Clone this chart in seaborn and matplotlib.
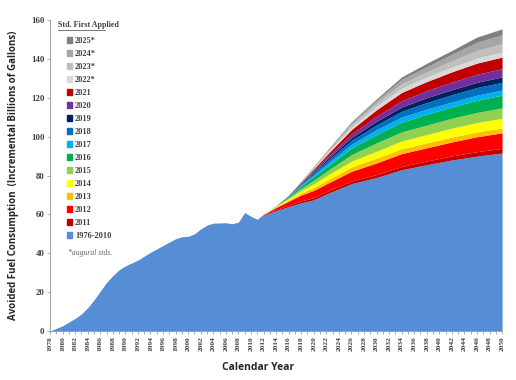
import numpy as np
import matplotlib
matplotlib.use("Agg")
import matplotlib.pyplot as plt
from matplotlib.patches import Patch
import seaborn as sns

sns.set_style("white")

# base fleet (1976-2010 standards)
base_years = [1978, 1980, 1982, 1983, 1984, 1985, 1986, 1987, 1988, 1989, 1990, 1992, 1994, 1996,
              1998, 1999, 2000, 2001, 2002, 2003, 2004, 2006, 2007, 2008, 2009, 2010,
              2011, 2012, 2014, 2016, 2018, 2020, 2022, 2026, 2030, 2034, 2038, 2042, 2046, 2050]
base_vals = [0, 2.7, 6.5, 8.8, 12, 16, 20.5, 25, 28.5, 31.5, 33.5, 36.5, 40.5, 44,
             47.5, 48.5, 48.7, 50, 52.5, 54.5, 55.5, 55.7, 55.2, 56, 61, 59,
             57.5, 59.5, 62, 64, 66, 67.5, 70.5, 75.8, 79, 83, 85.6, 88, 90, 91.6]

# later standards, thickness of each band
layer_years = [2011, 2012, 2014, 2016, 2018, 2020, 2022, 2026, 2030, 2034, 2038, 2042, 2046, 2050]
std_2011 = [0, 0.3, 0.6, 0.8, 1.0, 1.1, 1.2, 1.4, 1.5, 1.7, 1.9, 2.1, 2.3, 2.4]
std_2012 = [0, 0.2, 1.0, 2.0, 3.0, 3.8, 4.0, 5.0, 6.0, 6.6, 6.8, 7.2, 7.7, 8.0]
std_2013 = [0, 0, 0.3, 0.6, 1.0, 1.4, 1.7, 2.2, 2.5, 2.5, 2.5, 2.5, 2.5, 2.5]
std_2014 = [0, 0, 0.3, 0.7, 1.3, 1.9, 2.4, 3.0, 3.5, 4.0, 4.3, 4.6, 4.8, 5.0]
std_2015 = [0, 0, 0.2, 0.6, 1.2, 1.9, 2.3, 3.4, 4.3, 4.7, 4.9, 5.1, 5.2, 5.3]
std_2016 = [0, 0, 0.1, 0.5, 1.1, 1.8, 2.2, 3.3, 4.3, 5.0, 5.6, 5.8, 6.3, 6.6]
std_2017 = [0, 0, 0, 0.2, 0.6, 1.0, 1.4, 2.0, 2.5, 2.6, 2.6, 2.6, 2.6, 2.6]
std_2018 = [0, 0, 0, 0.2, 0.6, 1.0, 1.4, 2.0, 2.5, 3.0, 3.4, 3.7, 3.9, 4.0]
std_2019 = [0, 0, 0, 0.1, 0.3, 0.6, 0.9, 1.4, 1.8, 2.2, 2.5, 2.6, 2.7, 2.8]
std_2020 = [0, 0, 0, 0.1, 0.3, 0.7, 1.1, 1.9, 2.6, 3.2, 3.6, 3.9, 4.1, 4.2]
std_2021 = [0, 0, 0, 0.1, 0.4, 0.8, 1.3, 2.3, 3.4, 4.3, 4.7, 5.3, 5.8, 6.0]
std_2022 = [0, 0, 0, 0, 0.2, 0.4, 0.7, 1.3, 1.8, 2.1, 2.3, 2.4, 2.5, 2.6]
std_2023 = [0, 0, 0, 0, 0.2, 0.4, 0.6, 1.2, 1.7, 2.4, 2.7, 3.3, 4.0, 4.3]
std_2024 = [0, 0, 0, 0, 0.1, 0.3, 0.5, 1.0, 1.3, 2.2, 2.6, 3.3, 4.2, 4.6]
std_2025 = [0, 0, 0, 0, 0.1, 0.2, 0.3, 0.5, 0.8, 1.3, 1.8, 2.0, 2.7, 3.0]

layers = [std_2011, std_2012, std_2013, std_2014, std_2015, std_2016, std_2017, std_2018,
          std_2019, std_2020, std_2021, std_2022, std_2023, std_2024, std_2025]
layer_names = ["2011", "2012", "2013", "2014", "2015", "2016", "2017", "2018",
               "2019", "2020", "2021", "2022*", "2023*", "2024*", "2025*"]
layer_colors = ["#C00000", "#FF0000", "#FFC000", "#FFFF00", "#92D050", "#00B050", "#00B0F0",
                "#0070C0", "#002060", "#7030A0", "#C00000", "#D9D9D9", "#BFBFBF", "#A6A6A6", "#808080"]
base_color = "#558ED5"

fig = plt.figure(figsize=(5.16, 3.8), dpi=100)
ax = fig.add_axes([0.097, 0.129, 0.876, 0.818])

ax.fill_between(base_years, 0, base_vals, color=base_color, linewidth=0)

# stack the later standards on top of the base
base_lookup = dict(zip(base_years, base_vals))
bottom = np.array([base_lookup[y] for y in layer_years], dtype=float)
for vals, col in zip(layers, layer_colors):
    top = bottom + np.array(vals)
    ax.fill_between(layer_years, bottom, top, color=col, linewidth=0)
    bottom = top

ax.set_xlim(1978, 2050)
ax.set_ylim(0, 160)
ax.set_xticks(range(1978, 2051, 2))
ax.set_xticks(range(1978, 2051), minor=True)
ax.set_yticks(range(0, 161, 20))

tick_font = dict(family="Liberation Serif", weight="bold", color="#404040")
ax.set_xticklabels([str(y) for y in range(1978, 2051, 2)], rotation=90, fontsize=5.3, **tick_font)
ax.set_yticklabels([str(v) for v in range(0, 161, 20)], fontsize=6.3, **tick_font)
ax.tick_params(axis="both", which="both", direction="out", length=2.5, width=0.6, color="#A0A0A0",
               bottom=True, left=True, pad=1.5)
ax.tick_params(axis="x", which="minor", length=2)

for side in ["top", "right"]:
    ax.spines[side].set_visible(False)
for side in ["left", "bottom"]:
    ax.spines[side].set_color("#A0A0A0")
    ax.spines[side].set_linewidth(0.7)

ax.set_xlabel("Calendar Year", fontsize=7.5, fontweight="bold", family="Open Sans", color="#262626")
ax.xaxis.set_label_coords(0.46, -0.1)
ax.set_ylabel("Avoided Fuel Consumption  (Incremental Billions of Gallons)", fontsize=7,
              fontweight="bold", family="Open Sans", color="#262626")
ax.yaxis.set_label_coords(-0.068, 0.5)

# legend, newest standard on top
handles = [Patch(color=c) for c in layer_colors[::-1]] + [Patch(color=base_color)]
labels = layer_names[::-1] + ["1976-2010"]
leg = ax.legend(handles, labels, loc="upper left", bbox_to_anchor=(0.02, 0.97), frameon=False,
                prop=dict(family="Liberation Serif", weight="bold", size=6),
                handlelength=0.7, handleheight=0.7, handletextpad=0.3, labelspacing=0.6)
for t in leg.get_texts():
    t.set_color("#404040")

ax.text(0.018, 0.972, "Std. First Applied", transform=ax.transAxes, fontsize=5.8,
        family="Liberation Serif", weight="bold", color="#404040", va="bottom")
ax.plot([0.018, 0.122], [0.967, 0.967], transform=ax.transAxes, color="#404040", lw=0.5,
        clip_on=False)
ax.text(0.04, 0.245, "*augural stds.", transform=ax.transAxes, fontsize=5.5,
        family="Liberation Serif", style="italic", color="#606060")

fig.savefig("out.png", dpi=100)
